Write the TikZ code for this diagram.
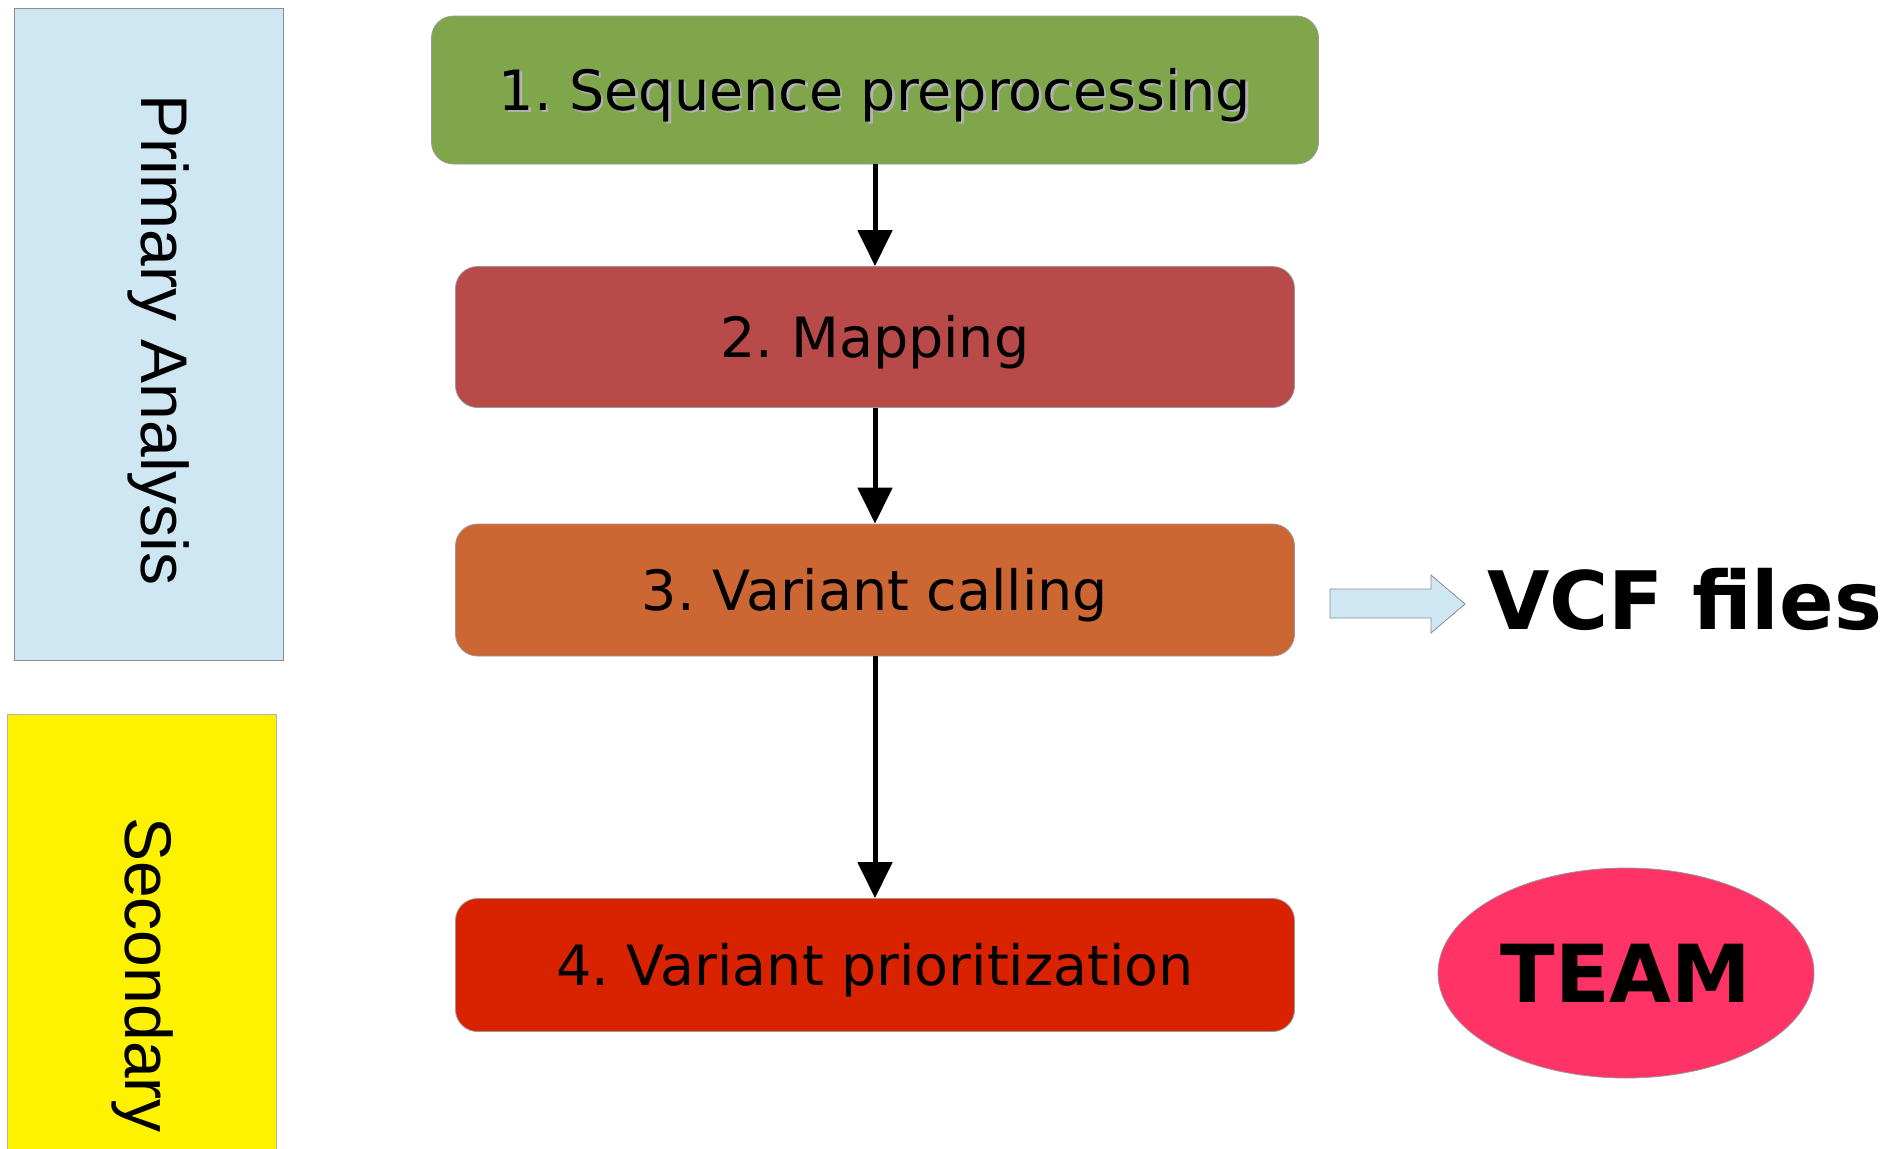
\documentclass[tikz,border=0pt]{standalone}
\usepackage{fontspec}
\setmainfont{DejaVu Sans}
\newfontfamily\sidefont{Liberation Sans}
\usetikzlibrary{arrows.meta,shapes.geometric}
\definecolor{stepgreen}{RGB}{127,166,75}
\definecolor{stepred}{RGB}{184,74,74}
\definecolor{steporange}{RGB}{204,102,51}
\definecolor{stepdark}{RGB}{217,35,0}
\definecolor{primblue}{RGB}{207,230,243}
\definecolor{teampink}{RGB}{255,51,102}
\newcommand\shadowtxt[1]{\makebox[0pt][l]{\hspace{1.2pt}\raisebox{-1.2pt}{\color{black!30}#1}}#1}
\frenchspacing
\begin{document}
\begin{tikzpicture}[x=0.5pt,y=-0.5pt,
  stage/.style={draw=black!40, line width=0.4pt, rounded corners=11pt, inner sep=0pt,
    text height=20pt, text depth=0pt, font=\fontsize{27.75}{33}\selectfont},
  flow/.style={line width=2.5pt, -{Triangle[length=18pt,width=17pt]}}]
\useasboundingbox (0,0) rectangle (1890,1148);
% side panels
\draw[draw=black!45, line width=0.4pt, fill=primblue] (14,8) rectangle (283,660);
\draw[draw=black!30, line width=0.4pt, fill=yellow] (7,714) rectangle (276,1152);
\node[rotate=-90, anchor=base, inner sep=0pt, font=\sidefont\fontsize{33}{40}\selectfont] (prim) at (141,340) {Primary Analysis};
\node[rotate=-90, anchor=base, inner sep=0pt, font=\sidefont\fontsize{33}{40}\selectfont] (sec) at (125,975) {Secondary};
% pipeline
\node[stage, fill=stepgreen, minimum width=443.5pt, minimum height=74pt] (box1) at (875,90) {\shadowtxt{1. Sequence preprocessing}};
\node[stage, fill=stepred, minimum width=419.5pt, minimum height=70.5pt] (box2) at (875,337) {2. Mapping};
\node[stage, fill=steporange, minimum width=419.5pt, minimum height=66pt] (box3) at (875,590) {3. Variant calling};
\node[stage, fill=stepdark, minimum width=419.5pt, minimum height=66.5pt] (box4) at (875,965) {4. Variant prioritization};
\draw[flow] (box1) -- (box2);
\draw[flow] (box2) -- (box3);
\draw[flow] (box3) -- (box4);
% outputs
\draw[draw=black!45, line width=0.4pt, fill=primblue] (1330,589) -- (1431,589) -- (1431,575) -- (1465,604) -- (1431,633) -- (1431,618) -- (1330,618) -- cycle;
\node[anchor=base west, inner sep=0pt, font=\bfseries\fontsize{40.3}{48}\selectfont] (vcf) at (1487,629) {VCF files};
\node[ellipse, draw=black!40, line width=0.4pt, fill=teampink, minimum width=188pt, minimum height=105pt, inner sep=0pt,
  text height=29pt, text depth=0pt, font=\bfseries\fontsize{40}{48}\selectfont] (team) at (1626,973) {TEAM};
\end{tikzpicture}
\end{document}
